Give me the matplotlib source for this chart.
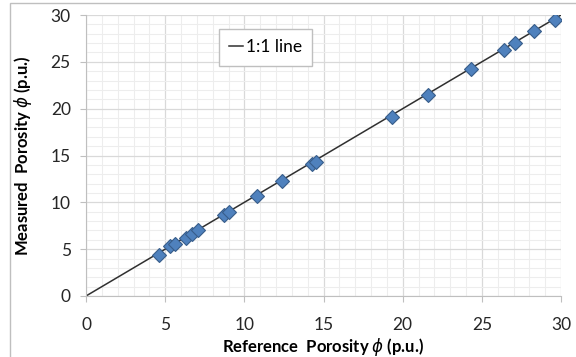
import matplotlib.pyplot as plt
from matplotlib.patches import Rectangle
from matplotlib.ticker import MultipleLocator

# reference vs measured porosity (p.u.)
ref_phi = [4.6, 5.3, 5.6, 6.3, 6.7, 7.1, 8.7, 9.05, 10.8, 12.4, 14.3, 14.5,
           19.3, 21.6, 24.3, 26.4, 27.1, 28.3, 29.6]
meas_phi = [4.4, 5.3, 5.6, 6.2, 6.6, 7.0, 8.6, 9.0, 10.7, 12.3, 14.1, 14.3,
            19.1, 21.5, 24.2, 26.3, 27.0, 28.3, 29.5]
line_x = [0, 30]
line_y = [0, 30]

plt.rcParams['font.family'] = ['Lato', 'DejaVu Sans']

fig = plt.figure(figsize=(5.76, 3.57), dpi=100)
ax = fig.add_axes([86/576, 1-296/357, 475/576, 281/357])

# outer chart border (only left and top edges visible)
fig.patches.append(Rectangle((10/576, -0.1), 1.2, 1.1 - 3/357,
                             transform=fig.transFigure, fill=False,
                             edgecolor='#BFBFBF', linewidth=1))

ax.plot(line_x, line_y, color='#303030', linewidth=1.1, label='1:1 line', zorder=2)
ax.plot(ref_phi, meas_phi, linestyle='none', marker='D', markersize=7,
        markerfacecolor='#4F81BD', markeredgecolor='#385D8A', markeredgewidth=0.8,
        zorder=3)

ax.set_xlim(0, 30)
ax.set_ylim(0, 30)
ax.xaxis.set_major_locator(MultipleLocator(5))
ax.yaxis.set_major_locator(MultipleLocator(5))
ax.xaxis.set_minor_locator(MultipleLocator(1))
ax.yaxis.set_minor_locator(MultipleLocator(1))
ax.grid(which='major', color='#D9D9D9', linewidth=0.9)
ax.grid(which='minor', color='#EDEDED', linewidth=0.8)
ax.set_axisbelow(True)

for s in ['top', 'right']:
    ax.spines[s].set_visible(False)
for s in ['left', 'bottom']:
    ax.spines[s].set_color('#BFBFBF')
ax.tick_params(which='major', length=4, color='#BFBFBF', labelsize=12.5,
               labelcolor='#262626')
ax.tick_params(axis='x', which='major', pad=11)
ax.tick_params(axis='y', which='major', pad=7)
ax.tick_params(which='minor', length=0)

ax.set_xlabel(r'Reference  Porosity $\phi$ (p.u.)', fontsize=12, fontweight='bold', labelpad=2)
ax.set_ylabel(r'Measured  Porosity $\phi$ (p.u.)', fontsize=12, fontweight='bold', labelpad=12)

leg = ax.legend(loc='upper left', bbox_to_anchor=(133/475, 1 - 14/281), fontsize=12.5,
                handlelength=0.8, handletextpad=0.15, fancybox=False, framealpha=1,
                borderpad=0.6, borderaxespad=0)
leg.get_frame().set_edgecolor('#BFBFBF')

fig.savefig('out.png', dpi=100)
